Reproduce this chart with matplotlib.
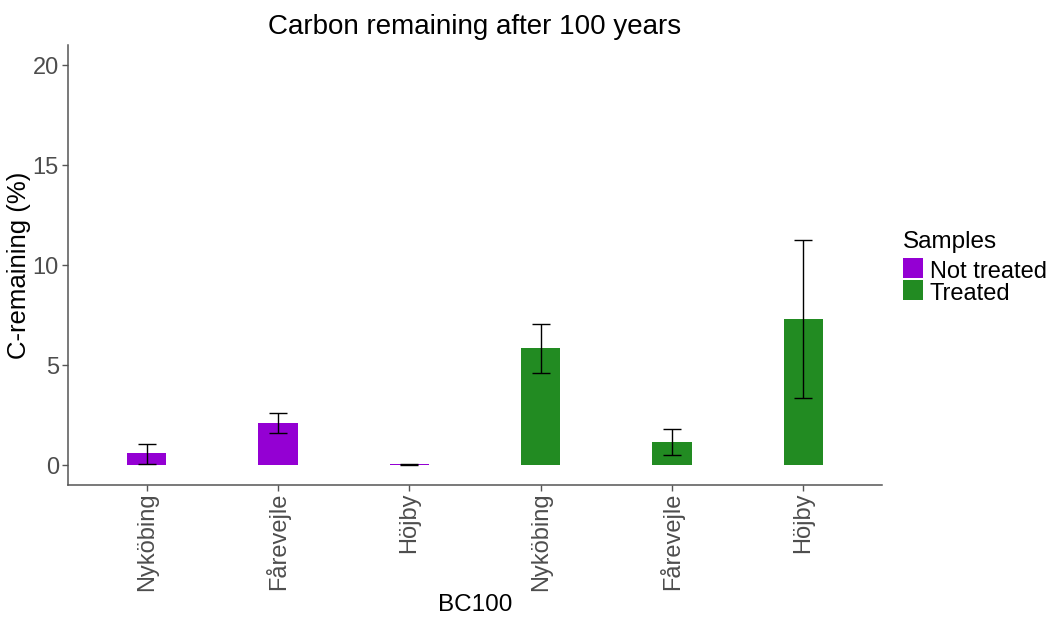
import matplotlib
matplotlib.use("Agg")
import matplotlib.pyplot as plt
from matplotlib.patches import Rectangle

plt.rcParams['font.family'] = ['Liberation Sans', 'DejaVu Sans']

# Data
sites = ["Nyköbing", "Fårevejle", "Höjby", "Nyköbing", "Fårevejle", "Höjby"]
samples = ["Not treated", "Not treated", "Not treated", "Treated", "Treated", "Treated"]
c_remaining = [0.60, 2.10, 0.03, 5.85, 1.15, 7.30]
err_low = [0.05, 1.60, 0.00, 4.60, 0.48, 3.35]
err_high = [1.07, 2.60, 0.05, 7.07, 1.82, 11.25]
sample_colors = {"Not treated": "#9400D3", "Treated": "#228B22"}
y_ticks = [0, 5, 10, 15, 20]

W, H = 1055, 619
fig = plt.figure(figsize=(W / 100, H / 100), dpi=100)
left, right, top, bottom = 68, 882, 45, 485
ax = fig.add_axes([left / W, 1 - bottom / H, (right - left) / W, (bottom - top) / H])

x = list(range(len(sites)))
colors = [sample_colors[s] for s in samples]
ax.bar(x, c_remaining, width=0.3, color=colors, zorder=2)
yerr = [[v - lo for v, lo in zip(c_remaining, err_low)],
        [hi - v for v, hi in zip(c_remaining, err_high)]]
ax.errorbar(x, c_remaining, yerr=yerr, fmt="none", ecolor="black",
            elinewidth=1.0, capsize=6.5, capthick=1.0, zorder=3)

ax.set_xlim(-0.6, len(sites) - 0.4)
ax.set_ylim(-1.0, 21.0)
ax.set_yticks(y_ticks)
ax.set_xticks(x)
ax.set_xticklabels(sites, rotation=90, ha="center", va="top")

for side in ("top", "right"):
    ax.spines[side].set_visible(False)
for side in ("left", "bottom"):
    ax.spines[side].set_color("#555555")
    ax.spines[side].set_linewidth(1.1)
ax.tick_params(axis="both", colors="#555555", length=4, width=1.0,
               labelsize=17, labelcolor="#4D4D4D")
ax.tick_params(axis="x", pad=1.5)
ax.tick_params(axis="y", pad=2.5)

ax.set_title("Carbon remaining after 100 years", fontsize=20, pad=8)
ax.set_xlabel("BC100", fontsize=17.5, labelpad=2)
ax.set_ylabel("C-remaining (%)", fontsize=18.5, labelpad=1.5)

# Legend drawn in figure pixel coordinates
def fx(px):
    return px / W

def fy(py):
    return 1 - py / H

fig.text(fx(903), fy(248), "Samples", fontsize=17.5, va="baseline", ha="left")
key_top = 258
for name, col in sample_colors.items():
    fig.patches.append(Rectangle((fx(903), fy(key_top + 20)), 20 / W, 20 / H,
                                 transform=fig.transFigure, facecolor=col,
                                 edgecolor="none"))
    fig.text(fx(930), fy(key_top + 19.5), name, fontsize=17,
             va="baseline", ha="left")
    key_top += 22

fig.savefig("out.png", dpi=100)
